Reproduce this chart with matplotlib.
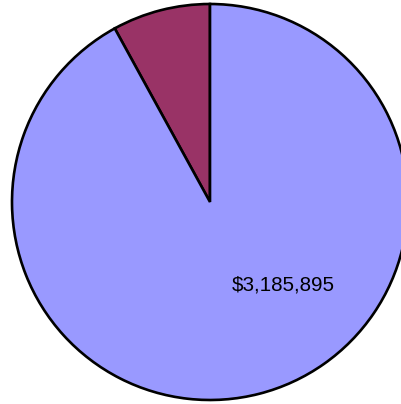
import matplotlib.pyplot as plt

# slice values, drawn counter-clockwise from 12 o'clock
labels = ["Other", "Main"]
values = [276600, 3185895]
colors = ["#993366", "#9999FF"]

fig = plt.figure(figsize=(4.02, 4.04), dpi=100)
ax = fig.add_axes([0, 0, 1, 1])
ax.set_xlim(0, 402)
ax.set_ylim(0, 404)
ax.set_aspect("equal")
ax.axis("off")

ax.pie(values, colors=colors, startangle=90, counterclock=True,
       center=(210, 202), radius=198,
       wedgeprops=dict(edgecolor="black", linewidth=1.9))
ax.set_xlim(0, 402)
ax.set_ylim(0, 404)

ax.text(283.5, 119, "${:,}".format(values[1]), ha="center", va="center",
        fontsize=14.9, family="Liberation Sans")

fig.savefig("out.png", dpi=100)
